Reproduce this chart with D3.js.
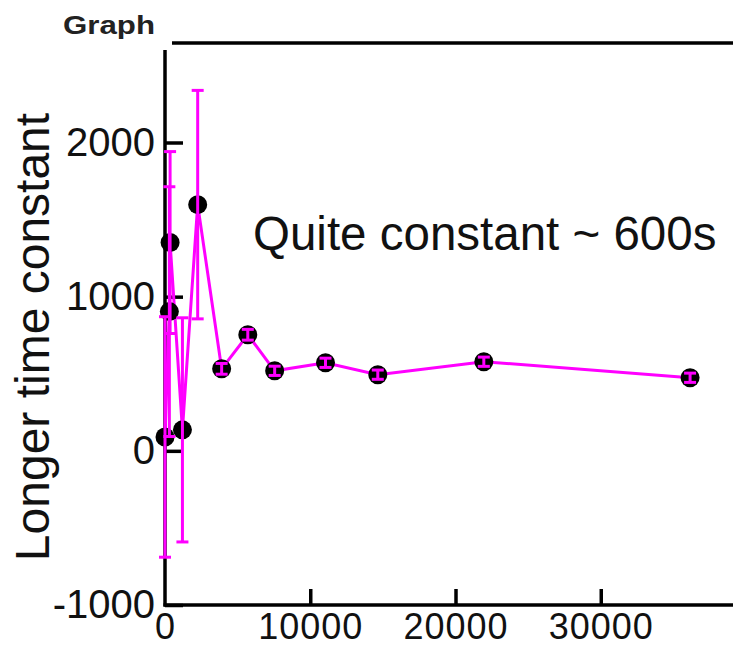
<!DOCTYPE html>
<html>
<head>
<meta charset="utf-8">
<script src="https://cdn.jsdelivr.net/npm/d3@7"></script>
<style>
  body { margin: 0; background: #fff; }
  svg { display: block; font-family: "Liberation Sans", Arial, sans-serif; }
  .axis text { font-size: 40px; fill: #111; }
  .axis.x-axis text { font-size: 36px; letter-spacing: 1px; }
  .axis line { stroke: #000; stroke-width: 3.5px; }
</style>
</head>
<body>
<svg id="chart" width="733" height="648"></svg>
<script>
const width = 733;
const height = 648;

// data
let times = [0, 300, 350, 1200, 2250, 3900, 5700, 7550, 11050, 14650, 21950, 36150];
let constants = [90, 903, 1351, 136, 1597, 532, 753, 519, 571, 494, 578, 474];
let errors = [780, 810, 590, 727, 741, 35, 35, 30, 30, 30, 30, 30];

let xTicks = [0, 10000, 20000, 30000];
let yTicks = [-1000, 0, 1000, 2000];

const margin = {
  top: 50,
  bottom: 42,
  left: 165,
  right: 0
};

const svg = d3.select("svg#chart");

/* SCALES */
const scales = {
  x: d3.scaleLinear().domain([0, 40000]).range([margin.left, margin.left + 581]),
  y: d3.scaleLinear().domain([-1000, 2600]).range([height - margin.bottom - 1, margin.top])
};

const points = times.map((t, i) => ({ x: t, y: constants[i], err: errors[i] }));

/* AXES */
drawAxes();
drawTitles();
drawData();

function drawAxes() {
  const y0 = scales.y(-1000);

  let xAxis = d3.axisBottom(scales.x)
    .tickValues(xTicks)
    .tickFormat(d3.format("d"))
    .tickSize(-16)
    .tickSizeOuter(0)
    .tickPadding(8);

  let yAxis = d3.axisLeft(scales.y)
    .tickValues(yTicks)
    .tickFormat(d3.format("d"))
    .tickSize(-18)
    .tickSizeOuter(0)
    .tickPadding(10);

  let xGroup = svg.append("g").attr("class", "axis x-axis").attr("transform", translate(0, y0)).call(xAxis);
  let yGroup = svg.append("g").attr("class", "axis y-axis").attr("transform", translate(margin.left, 0)).call(yAxis);

  xGroup.select(".domain").remove();
  yGroup.select(".domain").remove();
  // the 0 tick on x sits on the y axis line
  xGroup.selectAll(".tick line").filter(d => d === 0).remove();
  yGroup.selectAll("text").text(d => d < 0 ? "-" + Math.abs(d) : d);

  // axis lines
  svg.append("line")
    .attr("x1", margin.left).attr("x2", margin.left)
    .attr("y1", margin.top).attr("y2", y0 + 1.5)
    .attr("stroke", "#000").attr("stroke-width", 3.5);

  svg.append("line")
    .attr("x1", margin.left - 1.5).attr("x2", width)
    .attr("y1", y0).attr("y2", y0)
    .attr("stroke", "#000").attr("stroke-width", 3.5);

  // top frame line
  svg.append("line")
    .attr("x1", margin.left + 7).attr("x2", width)
    .attr("y1", 43).attr("y2", 43)
    .attr("stroke", "#000").attr("stroke-width", 3.5);
}

function drawTitles() {
  svg.append("text")
    .attr("x", 63)
    .attr("y", 34)
    .attr("font-size", 26)
    .attr("font-weight", "bold")
    .attr("fill", "#222")
    .attr("textLength", 92)
    .attr("lengthAdjust", "spacingAndGlyphs")
    .text("Graph");

  const yTitleGroup = svg.append("g").attr("transform", translate(49, 337));
  yTitleGroup.append("text")
    .attr("transform", "rotate(-90)")
    .attr("text-anchor", "middle")
    .attr("font-size", 48)
    .attr("fill", "#111")
    .text("Longer time constant");

  svg.append("text")
    .attr("x", 253)
    .attr("y", 250)
    .attr("font-size", 47.5)
    .attr("fill", "#111")
    .text("Quite constant ~ 600s");
}

function drawData() {
  const magenta = "#ff00ff";

  const line = d3.line()
    .x(d => scales.x(d.x))
    .y(d => scales.y(d.y));

  svg.append("path")
    .datum(points)
    .attr("d", line)
    .attr("fill", "none")
    .attr("stroke", magenta)
    .attr("stroke-width", 3);

  svg.append("g").selectAll("circle")
    .data(points)
    .enter()
    .append("circle")
    .attr("cx", d => scales.x(d.x))
    .attr("cy", d => scales.y(d.y))
    .attr("r", 9.5)
    .attr("fill", "#000");

  // error bars drawn over the dots
  const bars = svg.append("g").selectAll("g.err")
    .data(points)
    .enter()
    .append("g")
    .attr("class", "err")
    .attr("stroke", magenta)
    .attr("stroke-width", 3);

  bars.append("line")
    .attr("x1", d => scales.x(d.x)).attr("x2", d => scales.x(d.x))
    .attr("y1", d => scales.y(d.y + d.err)).attr("y2", d => scales.y(d.y - d.err));

  bars.append("line")
    .attr("x1", d => scales.x(d.x) - 6).attr("x2", d => scales.x(d.x) + 6)
    .attr("y1", d => scales.y(d.y + d.err)).attr("y2", d => scales.y(d.y + d.err));

  bars.append("line")
    .attr("x1", d => scales.x(d.x) - 6).attr("x2", d => scales.x(d.x) + 6)
    .attr("y1", d => scales.y(d.y - d.err)).attr("y2", d => scales.y(d.y - d.err));
}

function translate(x, y) {
  return 'translate(' + String(x) + ',' + String(y) + ')';
}
</script>
</body>
</html>
